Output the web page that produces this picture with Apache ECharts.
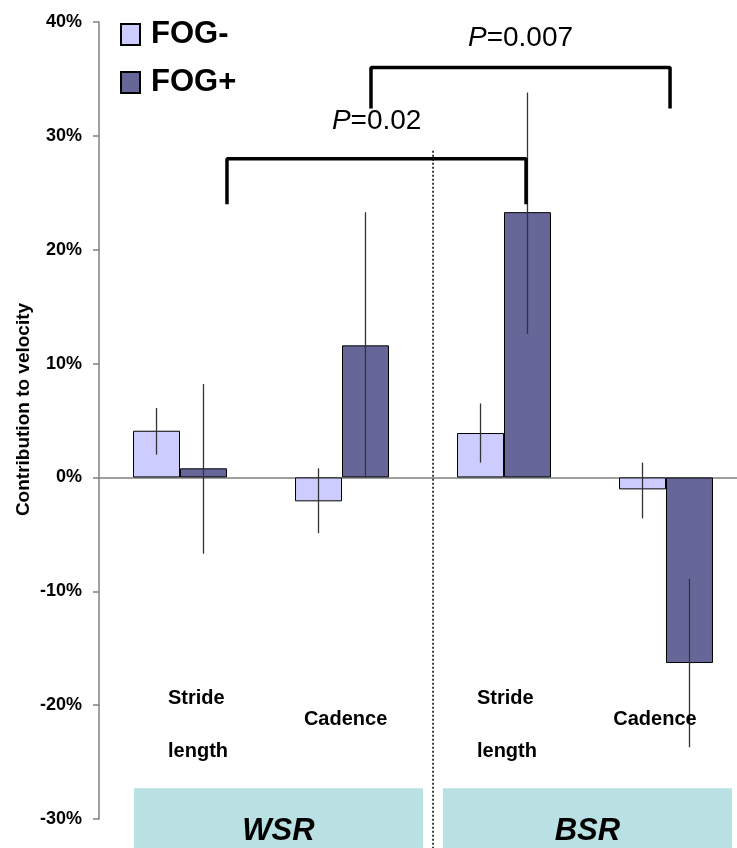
<!DOCTYPE html>
<html>
<head>
<meta charset="utf-8">
<script src="https://cdn.jsdelivr.net/npm/echarts@6.0.0/dist/echarts.min.js"></script>
<style>
  html, body { margin: 0; padding: 0; background: #fff; }
  #chart { width: 737px; height: 848px; }
</style>
</head>
<body>
<div id="chart"></div>
<script>
// --- data ---
const categories = ['Stride\nlength', 'Cadence', 'Stride\nlength', 'Cadence'];
const seriesNames = ['FOG-', 'FOG+'];
const fogMinus = [4.1, -2.1, 3.9, -1.05];
const fogPlus = [0.8, 11.6, 23.3, -16.3];
// error bars: [low, high]
const fogMinusErr = [[2.0, 6.1], [-4.9, 0.8], [1.3, 6.5], [-3.6, 1.3]];
const fogPlusErr = [[-6.7, 8.2], [0.0, 23.3], [12.6, 33.8], [-23.7, -8.9]];
const yTicks = { min: -30, max: 40, step: 10 };

// annotations on a 0..4 helper axis (one unit = one category)
const bracketLow = [[0.79, 24], [0.79, 28], [2.636, 28], [2.636, 24]];
const bracketHigh = [[1.679, 32.4], [1.679, 36], [3.525, 36], [3.525, 32.4]];
const pValues = ['0.02', '0.007'];
const pPositions = [[1.714, 31.3], [2.602, 38.6]];
const divider = [[2.062, 28.7], [2.062, -33]];
const groupNames = ['WSR', 'BSR'];
// [x0, x1, yTop, yBottom, yText]
const groupBoxes = [[0.216, 2.0, -27.3, -33, -31.1], [2.123, 3.907, -27.3, -33, -31.1]];
// where each category name sits (helper axis units, %)
const catLabelAnchors = [[0.426, -21.7], [1.522, -21.3], [2.333, -21.7], [3.432, -21.3]];
const catLabelAlign = ['left', 'center', 'left', 'center'];

const FONT = "'Liberation Sans', Arial, sans-serif";

const chart = echarts.init(document.getElementById('chart'));

function errRender(sign) {
    return function (params, api) {
        const idx = api.value(0);
        const lo = api.coord([idx, api.value(1)]);
        const hi = api.coord([idx, api.value(2)]);
        const bw = api.size([1, 0])[0] * (1 - 0.42) / 2;
        const x = lo[0] + sign * bw / 2;
        return {
            type: 'line',
            shape: { x1: x, y1: lo[1], x2: x, y2: hi[1] },
            style: { stroke: '#333', lineWidth: 1.3 }
        };
    };
}

function boxRender(params, api) {
    const p0 = api.coord([api.value(0), api.value(2)]);
    const p1 = api.coord([api.value(1), api.value(3)]);
    const t = api.coord([(api.value(0) + api.value(1)) / 2, api.value(4)]);
    return {
        type: 'group',
        children: [
            {
                type: 'rect',
                shape: { x: p0[0], y: p0[1], width: p1[0] - p0[0], height: p1[1] - p0[1] },
                style: { fill: '#b9e0e2' }
            },
            {
                type: 'text',
                x: t[0], y: t[1],
                style: {
                    text: groupNames[params.dataIndex],
                    font: 'italic bold 31px ' + FONT,
                    fill: '#000',
                    align: 'center',
                    verticalAlign: 'middle'
                }
            }
        ]
    };
}

const option = {
    animation: false,
    backgroundColor: '#fff',
    textStyle: { fontFamily: FONT },
    grid: { left: 99, right: -10, top: 22, bottom: 29, outerBoundsMode: 'none' },
    legend: {
        data: seriesNames,
        orient: 'vertical',
        left: 120,
        top: 19,
        padding: 0,
        itemWidth: 19,
        itemHeight: 21,
        itemGap: 17,
        icon: 'rect',
        selectedMode: false,
        textStyle: { fontSize: 31, fontWeight: 'bold', color: '#000', padding: [0, 0, 0, 6] }
    },
    xAxis: [
        {
            type: 'category',
            data: categories,
            axisLine: { onZero: true, lineStyle: { color: '#808080', width: 1.5 } },
            axisTick: { show: false },
            axisLabel: { show: false }
        },
        { type: 'value', min: 0, max: 4, show: false }
    ],
    yAxis: {
        type: 'value',
        min: yTicks.min,
        max: yTicks.max,
        interval: yTicks.step,
        name: 'Contribution to velocity',
        nameLocation: 'middle',
        nameRotate: 90,
        nameGap: 66,
        nameMoveOverlap: false,
        nameTextStyle: { fontSize: 19, fontWeight: 'bold', color: '#000', padding: [0, 0, 0, 22] },
        axisLine: { show: true, lineStyle: { color: '#808080', width: 1.5 } },
        axisTick: { show: true, length: 6, lineStyle: { color: '#808080', width: 1.5 } },
        axisLabel: { formatter: '{value}%', fontSize: 18, fontWeight: 'bold', color: '#000', margin: 17 },
        splitLine: { show: false }
    },
    series: [
        {
            name: 'FOG-', type: 'bar', data: fogMinus,
            barGap: '0%', barCategoryGap: '42%',
            itemStyle: { color: '#ccccff', borderColor: '#000', borderWidth: 1 }
        },
        {
            name: 'FOG+', type: 'bar', data: fogPlus,
            itemStyle: { color: '#666699', borderColor: '#000', borderWidth: 1 }
        },
        {
            type: 'custom', name: 'errMinus', z: 5, silent: true,
            renderItem: errRender(-1),
            encode: { x: 0, y: [1, 2] },
            data: fogMinusErr.map((e, i) => [i, e[0], e[1]])
        },
        {
            type: 'custom', name: 'errPlus', z: 5, silent: true,
            renderItem: errRender(1),
            encode: { x: 0, y: [1, 2] },
            data: fogPlusErr.map((e, i) => [i, e[0], e[1]])
        },
        {
            type: 'line', xAxisIndex: 1, silent: true, symbol: 'none', z: 6,
            lineStyle: { color: '#000', width: 3.5 },
            data: bracketLow
        },
        {
            type: 'line', xAxisIndex: 1, silent: true, symbol: 'none', z: 6,
            lineStyle: { color: '#000', width: 3.5 },
            data: bracketHigh
        },
        {
            // P-value labels
            type: 'scatter', xAxisIndex: 1, silent: true, symbolSize: 0, z: 7,
            itemStyle: { opacity: 1 },
            data: pPositions,
            label: {
                show: true,
                position: 'inside',
                formatter: p => '{i|P}{n|=' + pValues[p.dataIndex] + '}',
                rich: {
                    i: { fontSize: 28, fontStyle: 'italic', color: '#000', fontFamily: FONT },
                    n: { fontSize: 28, color: '#000', fontFamily: FONT }
                }
            }
        },
        {
            // category names
            type: 'scatter', xAxisIndex: 1, silent: true, symbolSize: 0, z: 7, clip: false,
            itemStyle: { opacity: 1 },
            data: catLabelAnchors.map((p, i) => ({
                value: p,
                label: { align: catLabelAlign[i] }
            })),
            label: {
                show: true,
                position: [0, 0],
                verticalAlign: 'middle',
                formatter: p => categories[p.dataIndex],
                fontSize: 20,
                fontWeight: 'bold',
                color: '#000',
                lineHeight: 53
            }
        },
        {
            type: 'line', xAxisIndex: 1, silent: true, symbol: 'none', clip: false, z: 4,
            lineStyle: { color: '#000', width: 1.5, type: [2, 2] },
            data: divider
        },
        {
            type: 'custom', xAxisIndex: 1, silent: true, clip: false, z: 1,
            renderItem: boxRender,
            encode: { x: [0, 1], y: [2, 3] },
            data: groupBoxes
        }
    ]
};

chart.setOption(option);
</script>
</body>
</html>
